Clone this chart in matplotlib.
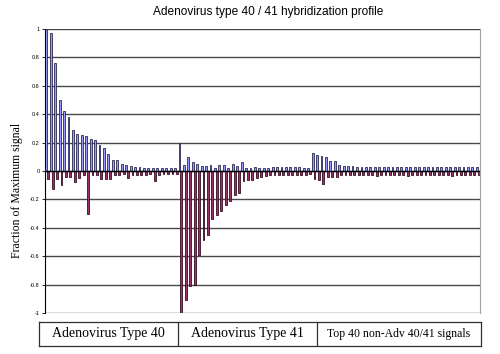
import numpy as np
import matplotlib
matplotlib.use('Agg')
import matplotlib.pyplot as plt


# hybridization signal, fraction of max (blue = positive series, maroon = negative series)
adv40_pos = [1.00, 0.97, 0.76, 0.50, 0.42, 0.38, 0.29, 0.26, 0.255, 0.245,
             0.225, 0.22, 0.185, 0.165, 0.12, 0.08, 0.075, 0.05, 0.04, 0.035,
             0.03, 0.03, 0.02, 0.02, 0.02, 0.02, 0.02, 0.02, 0.02, 0.02]
adv40_neg = [-0.06, -0.13, -0.06, -0.10, -0.04, -0.04, -0.08, -0.05, -0.03, -0.30,
             -0.03, -0.03, -0.06, -0.06, -0.06, -0.03, -0.03, -0.02, -0.05, -0.03,
             -0.03, -0.03, -0.03, -0.02, -0.07, -0.03, -0.02, -0.02, -0.02, -0.02]
adv41_pos = [0.20, 0.045, 0.10, 0.06, 0.05, 0.035, 0.033, 0.04, 0.02, 0.04,
             0.04, 0.02, 0.05, 0.035, 0.06, 0.02, 0.02, 0.03, 0.02, 0.02,
             0.02, 0.03, 0.03, 0.03, 0.03, 0.03, 0.03, 0.03, 0.02, 0.02]
adv41_neg = [-1.00, -0.91, -0.81, -0.80, -0.59, -0.485, -0.45, -0.335, -0.31, -0.28,
             -0.24, -0.21, -0.17, -0.155, -0.07, -0.065, -0.065, -0.05, -0.04, -0.035,
             -0.03, -0.03, -0.03, -0.03, -0.03, -0.03, -0.03, -0.03, -0.025, -0.02]
top_pos = [0.13, 0.11, 0.105, 0.10, 0.07, 0.07, 0.04, 0.035, 0.035, 0.035,
           0.03, 0.03, 0.03, 0.03, 0.03, 0.03, 0.03, 0.025, 0.03, 0.03,
           0.025, 0.025, 0.03, 0.025, 0.025, 0.03, 0.03, 0.025, 0.025, 0.03,
           0.025, 0.025, 0.03, 0.025, 0.03, 0.025, 0.025, 0.03]
top_neg = [-0.055, -0.065, -0.09, -0.045, -0.045, -0.04, -0.03, -0.03, -0.025, -0.03,
           -0.025, -0.03, -0.025, -0.03, -0.035, -0.025, -0.03, -0.025, -0.03, -0.025,
           -0.03, -0.035, -0.03, -0.025, -0.03, -0.03, -0.03, -0.025, -0.03, -0.03,
           -0.03, -0.035, -0.03, -0.03, -0.025, -0.03, -0.03, -0.03]

group_labels = ['Adenovirus Type 40', 'Adenovirus Type 41', 'Top 40 non-Adv 40/41 signals']
yticks = [1, 0.8, 0.6, 0.4, 0.2, 0, -0.2, -0.4, -0.6, -0.8, -1]
ytick_labels = ['1', '0.8', '0.6', '0.4', '0.2', '0', '-0.2', '-0.4', '-0.6', '-0.8', '-1']

pos = np.array(adv40_pos + adv41_pos + top_pos)
neg = np.array(adv40_neg + adv41_neg + top_neg)
x = np.arange(len(pos))

fig = plt.figure(figsize=(5, 3.54), dpi=100)
ax = fig.add_axes([0.09, 0.116, 0.87, 0.802])

for y in yticks:
    ax.axhline(y, color='#484848', lw=1.0, zorder=0)

ax.bar(x - 0.21, pos, width=0.42, color='#9999FF', edgecolor='#1a1a40', lw=0.55, zorder=2)
ax.bar(x + 0.21, neg, width=0.42, color='#993366', edgecolor='#2a0016', lw=0.55, zorder=2)
ax.axhline(0, color='black', lw=1, zorder=3)

ax.set_xlim(-0.5, len(pos) - 0.5)
ax.set_ylim(-1, 1)
ax.set_xticks([])
ax.set_yticks(yticks)
ax.set_yticklabels(ytick_labels, fontsize=4, family='Liberation Sans')
ax.tick_params(axis='y', length=2, width=0.6, pad=2)
ax.spines['top'].set_visible(False)
ax.spines['bottom'].set_visible(False)
ax.spines['right'].set_color('#a0a0a0')
ax.spines['left'].set_color('black')

fig.text(0.536, 0.966, 'Adenovirus type 40 / 41 hybridization profile',
         ha='center', va='center', fontsize=8.6, family='Liberation Sans')
fig.text(0.034, 0.462, 'Fraction of Maximum signal', rotation=90,
         ha='center', va='center', fontsize=8.5, family='Liberation Serif')

# group label table under the chart
tab = fig.add_axes([0.078, 0.0226, 0.884, 0.0678])
tab.set_xlim(0, 1)
tab.set_ylim(0, 1)
tab.set_xticks([])
tab.set_yticks([])
for s in tab.spines.values():
    s.set_color('#303030')
    s.set_linewidth(0.9)
for d in [0.3145, 0.629]:
    tab.axvline(d, color='#303030', lw=0.9)
for cx, lab, fs in zip([0.1566, 0.4717, 0.8145], group_labels, [10, 10, 8.5]):
    tab.text(cx, 0.5, lab, ha='center', va='center', fontsize=fs, family='Liberation Serif')

fig.savefig('out.png', dpi=100)
